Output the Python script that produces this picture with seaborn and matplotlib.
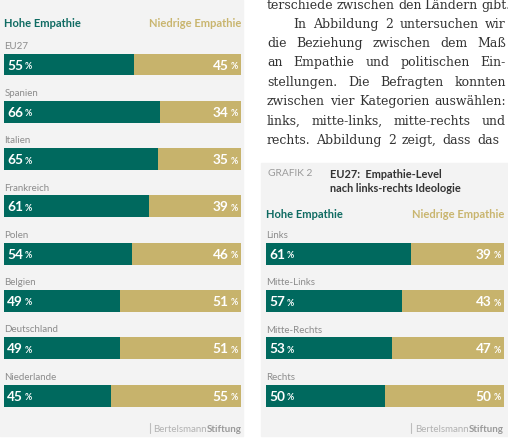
import matplotlib
matplotlib.use('Agg')
import matplotlib.pyplot as plt
from matplotlib.patches import Rectangle
from matplotlib.lines import Line2D
import seaborn as sns
import pandas as pd

# Daten
laender = ['EU27', 'Spanien', 'Italien', 'Frankreich', 'Polen', 'Belgien', 'Deutschland', 'Niederlande']
hoch_land = [55, 66, 65, 61, 54, 49, 49, 45]
niedrig_land = [45, 34, 35, 39, 46, 51, 51, 55]

ideologie = ['Links', 'Mitte-Links', 'Mitte-Rechts', 'Rechts']
hoch_ideo = [61, 57, 53, 50]
niedrig_ideo = [39, 43, 47, 50]

fliesstext = [
    'terschiede zwischen den Ländern gibt.',
    'In Abbildung 2 untersuchen wir',
    'die Beziehung zwischen dem Maß',
    'an Empathie und politischen Ein-',
    'stellungen. Die Befragten konnten',
    'zwischen vier Kategorien auswählen:',
    'links, mitte-links, mitte-rechts und',
    'rechts. Abbildung 2 zeigt, dass das',
]

TEAL = '#00695e'
TAN = '#c7b36c'
TEAL_TXT = '#0f6b62'
TAN_TXT = '#c9b56e'
GRAU = '#8c8c8c'
PANEL = '#f3f3f3'

W, H = 508, 440

sns.set_theme(style='white')
plt.rcParams['font.family'] = ['Lato', 'DejaVu Sans']

fig = plt.figure(figsize=(W / 100, H / 100), dpi=100)
fig.patch.set_facecolor('white')


def fx(x):
    return x / W


def fy(y):
    return 1 - y / H


def panel(x0, y0, x1, y1):
    fig.add_artist(Rectangle((fx(x0), fy(y1)), (x1 - x0) / W, (y1 - y0) / H,
                             transform=fig.transFigure, color=PANEL, zorder=-5))


def achse(x0, x1, y_mitte_erste, n, abstand=47.3):
    top = y_mitte_erste - abstand / 2
    return fig.add_axes([fx(x0), fy(top + n * abstand), (x1 - x0) / W, n * abstand / H])


def wert(ax, x, y, v, rechts):
    t = ax.annotate(str(v), xy=(x, y), xytext=(-6.4 if rechts else 0, 0), textcoords='offset points',
                    ha='right' if rechts else 'left', va='center_baseline',
                    color='white', fontsize=9.8, fontweight='bold')
    ax.annotate('%', xy=(1, 0), xycoords=t, xytext=(1.0, 0.4), textcoords='offset points',
                ha='left', va='bottom', color='white', fontsize=6.3, fontweight='bold')


def balken(ax, kategorien, hoch, niedrig):
    df = pd.DataFrame({'kategorie': kategorien, 'hoch': hoch,
                       'gesamt': [h + n for h, n in zip(hoch, niedrig)]})
    sns.barplot(data=df, y='kategorie', x='gesamt', color=TAN, saturation=1,
                width=0.465, linewidth=0, ax=ax)
    sns.barplot(data=df, y='kategorie', x='hoch', color=TEAL, saturation=1,
                width=0.465, linewidth=0, ax=ax)
    ax.set_xlim(0, 100)
    ax.set_ylim(len(kategorien) - 0.5, -0.5)
    ax.axis('off')
    for i, (k, h, n) in enumerate(zip(kategorien, hoch, niedrig)):
        ax.text(0.1, i - 0.41, k, ha='left', va='center_baseline', color=GRAU, fontsize=7)
        wert(ax, 1.3, i, h, False)
        wert(ax, 98.6, i, n, True)


def kopf(x0, x1, y):
    fig.text(fx(x0), fy(y), 'Hohe Empathie', ha='left', va='center_baseline',
             color=TEAL_TXT, fontsize=8, fontweight='bold')
    fig.text(fx(x1), fy(y), 'Niedrige Empathie', ha='right', va='center_baseline',
             color=TAN_TXT, fontsize=8, fontweight='bold')


def marke(x1, y, x_strich):
    t = fig.text(fx(x1), fy(y), 'Stiftung', ha='right', va='center_baseline',
                 color='#9a9a9a', fontsize=7, fontweight='bold')
    fig.add_artist(plt.Annotation('Bertelsmann', xy=(0, 0), xycoords=t, ha='right', va='bottom',
                                  color='#b2b2b2', fontsize=7))
    fig.add_artist(Line2D([fx(x_strich)] * 2, [fy(y - 5), fy(y + 5)], transform=fig.transFigure,
                          color='#bdbdbd', linewidth=0.8))


def blocksatz(zeile, x0, x1, y):
    # Blocksatz: Wortabstaende so verteilen, dass die Zeile bis x1 reicht
    r = fig.canvas.get_renderer()
    woerter = zeile.split(' ')
    stil = dict(family=['DejaVu Serif'], fontsize=9.0, color='#333333', va='center_baseline')
    breiten = []
    for w in woerter:
        t = fig.text(0, 0, w, **stil)
        breiten.append(t.get_window_extent(r).width)
        t.remove()
    luecke = max((x1 - x0 - sum(breiten)) / (len(woerter) - 1), 3.2)
    x = x0
    for w, b in zip(woerter, breiten):
        fig.text(fx(x), fy(y), w, ha='left', **stil)
        x += b + luecke


# linke Grafik
panel(0, 0, 243, 436)
ax1 = achse(4, 241, 64.5, len(laender))
balken(ax1, laender, hoch_land, niedrig_land)
kopf(4, 241, 22.5)
marke(242, 428, 150)

# Fliesstext rechts oben
zeilen_y = [4, 23, 42, 61, 81, 100, 120, 139]
for i, (zeile, y) in enumerate(zip(fliesstext, zeilen_y)):
    blocksatz(zeile, 293 if i == 1 else 267, 499 if i == 7 else 506, y)

# rechte Grafik
panel(261, 163, 508, 436)
fig.text(fx(268), fy(173), 'GRAFIK 2', ha='left', va='center_baseline', color='#9a9a9a', fontsize=7.4)
fig.text(fx(330), fy(173), 'EU27:  Empathie-Level', ha='left', va='center_baseline',
         color='#333333', fontsize=7.9, fontweight='bold')
fig.text(fx(330), fy(187), 'nach links-rechts Ideologie', ha='left', va='center_baseline',
         color='#333333', fontsize=7.9, fontweight='bold')
ax2 = achse(266, 504, 254, len(ideologie), abstand=47.2)
balken(ax2, ideologie, hoch_ideo, niedrig_ideo)
kopf(266, 504, 213)
marke(504, 428, 411)

fig.savefig('out.png', dpi=100)
